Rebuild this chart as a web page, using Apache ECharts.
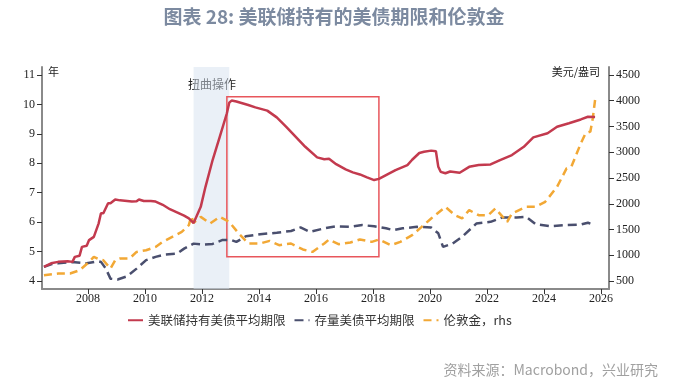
<!DOCTYPE html>
<html><head><meta charset="utf-8">
<script src="https://cdn.jsdelivr.net/npm/echarts@6/dist/echarts.min.js"></script>
<style>html,body{margin:0;padding:0;background:#fff}#c{width:680px;height:386px}</style>
</head><body><div id="c"></div>
<script>
const xTicks = [2008,2010,2012,2014,2016,2018,2020,2022,2024,2026];
const leftTicks = [4,5,6,7,8,9,10,11];
const rightTicks = [500,1000,1500,2000,2500,3000,3500,4000,4500];
const seriesNames = ['美联储持有美债平均期限','存量美债平均期限','伦敦金，rhs'];

const fedDates = ['2006-06','2006-09','2006-12','2007-04','2007-06','2007-07','2007-09','2007-10','2007-12','2008-01','2008-03','2008-05','2008-06','2008-07','2008-09','2008-10','2008-12','2009-02','2009-04','2009-07','2009-09','2009-10','2009-12','2010-03','2010-05','2010-08','2010-11','2011-02','2011-05','2011-07','2011-09','2011-12','2012-02','2012-05','2012-08','2012-11','2012-12','2013-01','2013-03','2013-08','2013-11','2014-04','2014-08','2014-12','2015-04','2015-08','2016-01','2016-04','2016-06','2016-09','2017-01','2017-04','2017-07','2017-10','2018-01','2018-03','2018-06','2018-10','2019-03','2019-05','2019-08','2019-10','2020-01','2020-03','2020-04','2020-05','2020-07','2020-09','2021-01','2021-05','2021-09','2022-02','2022-06','2022-11','2023-04','2023-08','2024-02','2024-06','2024-11','2025-04','2025-07','2025-10'];
const fedValues = [4.48,4.60,4.65,4.67,4.65,4.82,4.86,5.16,5.20,5.39,5.50,5.95,6.30,6.30,6.64,6.64,6.77,6.74,6.73,6.70,6.71,6.77,6.72,6.72,6.70,6.59,6.44,6.33,6.22,6.13,5.97,6.52,7.20,8.11,8.90,9.70,10.06,10.13,10.10,9.98,9.90,9.79,9.56,9.24,8.90,8.56,8.20,8.14,8.15,7.97,7.79,7.69,7.62,7.52,7.43,7.47,7.60,7.77,7.94,8.12,8.35,8.39,8.43,8.41,7.88,7.71,7.66,7.72,7.68,7.88,7.94,7.96,8.11,8.28,8.56,8.88,9.02,9.24,9.36,9.49,9.58,9.57];

const tsyDates = ['2006-06','2006-09','2006-12','2007-04','2007-07','2007-12','2008-04','2008-06','2008-08','2008-10','2009-01','2009-05','2009-09','2010-01','2010-05','2010-09','2011-02','2011-05','2011-09','2012-01','2012-05','2012-09','2013-01','2013-03','2013-07','2014-01','2014-08','2015-02','2015-06','2015-10','2016-04','2016-09','2017-03','2017-08','2018-01','2018-06','2018-09','2019-01','2019-07','2020-01','2020-04','2020-06','2020-10','2021-02','2021-08','2022-02','2022-07','2023-01','2023-05','2023-09','2024-03','2024-09','2025-04','2025-07','2025-10'];
const tsyValues = [4.48,4.57,4.60,4.63,4.64,4.60,4.66,4.65,4.43,4.08,4.05,4.16,4.42,4.71,4.82,4.90,4.93,5.10,5.27,5.24,5.26,5.39,5.39,5.33,5.52,5.59,5.64,5.70,5.82,5.67,5.79,5.86,5.84,5.90,5.86,5.79,5.73,5.79,5.84,5.82,5.62,5.16,5.27,5.50,5.95,6.01,6.16,6.16,6.18,5.93,5.86,5.90,5.92,5.98,5.89];

const goldDates = ['2006-06','2006-12','2007-05','2007-09','2008-01','2008-03','2008-05','2008-07','2008-10','2008-12','2009-02','2009-06','2009-09','2010-01','2010-05','2010-08','2010-12','2011-04','2011-07','2011-08','2011-09','2011-12','2012-04','2012-08','2012-12','2013-04','2013-08','2014-01','2014-05','2014-09','2015-02','2015-07','2015-11','2016-04','2016-06','2016-10','2017-03','2017-07','2017-12','2018-03','2018-08','2018-12','2019-05','2019-09','2020-01','2020-07','2020-11','2021-02','2021-05','2021-09','2022-01','2022-04','2022-09','2022-11','2023-05','2023-09','2024-01','2024-06','2024-10','2024-12','2025-04','2025-06','2025-08','2025-09','2025-10'];
const goldValues = [612,645,645,709,870,968,923,903,742,903,936,936,1065,1098,1162,1260,1357,1454,1584,1760,1630,1745,1617,1745,1648,1423,1228,1228,1279,1195,1228,1112,1065,1228,1306,1215,1247,1306,1260,1306,1195,1260,1390,1551,1714,1940,1778,1714,1875,1778,1778,1908,1648,1811,1940,1940,2037,2328,2686,2718,3172,3367,3400,3650,4014];

const twistRange = ['2011-09','2012-12'];
const boxRange = {x0:'2012-11', x1:'2018-03', y0:4.82, y1:10.26};

function toYear(s){const p=s.split('-').map(Number);return p[0]+(p[1]-0.5)/12;}
function pairs(d,v){return d.map((s,i)=>[toYear(s),v[i]]);}

const pad = 8/29.43;
const lMin = 4-pad, lMax = 11+pad;
const rPer = 4000/7;
const rMin = 500-pad*rPer, rMax = 4500+pad*rPer;

const serif = '"Liberation Serif","DejaVu Serif",serif';
const cjk = '"Noto Sans CJK SC","Noto Sans",sans-serif';

const chart = echarts.init(document.getElementById('c'), null, {renderer:'canvas'});
const axisLine = {show:true, lineStyle:{color:'#8a8a8a', width:2}};
chart.setOption({
  animation:false,
  backgroundColor:'#fff',
  grid:{left:42, right:71, top:67, bottom:97},
  legend:{
    left:122, top:309, itemWidth:15, itemHeight:10, itemGap:8,
    itemStyle:{opacity:0},
    textStyle:{fontFamily:cjk, fontSize:12.5, color:'#333'},
    data:seriesNames.map(n=>({name:n}))
  },
  xAxis:{
    type:'value', min:2006.39, max:2026.28,
    axisLine:axisLine, splitLine:{show:false},
    axisTick:{show:true, length:5, lineStyle:{color:'#333'}, customValues:xTicks},
    axisLabel:{fontFamily:serif, fontSize:12, color:'#222', margin:4, customValues:xTicks, formatter:v=>String(Math.round(v))}
  },
  yAxis:[
    {type:'value', min:lMin, max:lMax, position:'left',
     axisLine:axisLine, splitLine:{show:false},
     axisTick:{show:true, length:5, lineStyle:{color:'#333'}, customValues:leftTicks},
     axisLabel:{fontFamily:serif, fontSize:12, color:'#222', margin:7, customValues:leftTicks, formatter:v=>String(Math.round(v))}},
    {type:'value', min:rMin, max:rMax, position:'right',
     axisLine:axisLine, splitLine:{show:false},
     axisTick:{show:true, length:5, lineStyle:{color:'#333'}, customValues:rightTicks},
     axisLabel:{fontFamily:serif, fontSize:12, color:'#222', margin:7, customValues:rightTicks, formatter:v=>String(Math.round(v))}}
  ],
  series:[
    {name:seriesNames[0], type:'line', yAxisIndex:0, data:pairs(fedDates,fedValues),
     symbol:'none', lineStyle:{color:'#c33a4e', width:2.5}, itemStyle:{color:'#c33a4e'}, z:5,
     markArea:{silent:true, data:[
       [{xAxis:toYear(twistRange[0]), itemStyle:{color:'rgba(214,225,240,0.5)'}},{xAxis:toYear(twistRange[1])}],
     ], z:1}},
    {name:seriesNames[1], type:'line', yAxisIndex:0, data:pairs(tsyDates,tsyValues),
     symbol:'none', lineStyle:{color:'#4a4f6e', width:2.5, type:[9,5]}, itemStyle:{color:'#4a4f6e'}, z:3,
     markArea:{silent:true, data:[
       [{coord:[toYear(boxRange.x0), boxRange.y0], itemStyle:{color:'rgba(0,0,0,0)', borderColor:'#e8565c', borderWidth:1.5}},
        {coord:[toYear(boxRange.x1), boxRange.y1]}]
     ]}},
    {name:seriesNames[2], type:'line', yAxisIndex:1, data:pairs(goldDates,goldValues),
     symbol:'none', lineStyle:{color:'#f2a835', width:2.5, type:[8,5]}, itemStyle:{color:'#f2a835'}, z:4}
  ],
  graphic:[
    {type:'text', x:334, y:7, style:{text:'图表 28: 美联储持有的美债期限和伦敦金', fontFamily:cjk, fontSize:19, fontWeight:'bold', fill:'#7c8aa0', textAlign:'center'}},
    {type:'text', x:48, y:66, style:{text:'年', fontFamily:cjk, fontSize:11, fill:'#222'}},
    {type:'text', x:600, y:66, style:{text:'美元/盎司', fontFamily:cjk, fontSize:11, fill:'#222', textAlign:'right'}},
    {type:'text', x:212, y:78, style:{text:'扭曲操作', fontFamily:cjk, fontSize:12, fill:'#222', textAlign:'center'}},
    {type:'text', x:658, y:363, style:{text:'资料来源：Macrobond，兴业研究', fontFamily:cjk, fontSize:14, fill:'#a0a0a0', textAlign:'right'}}
  ]
});
</script></body></html>
